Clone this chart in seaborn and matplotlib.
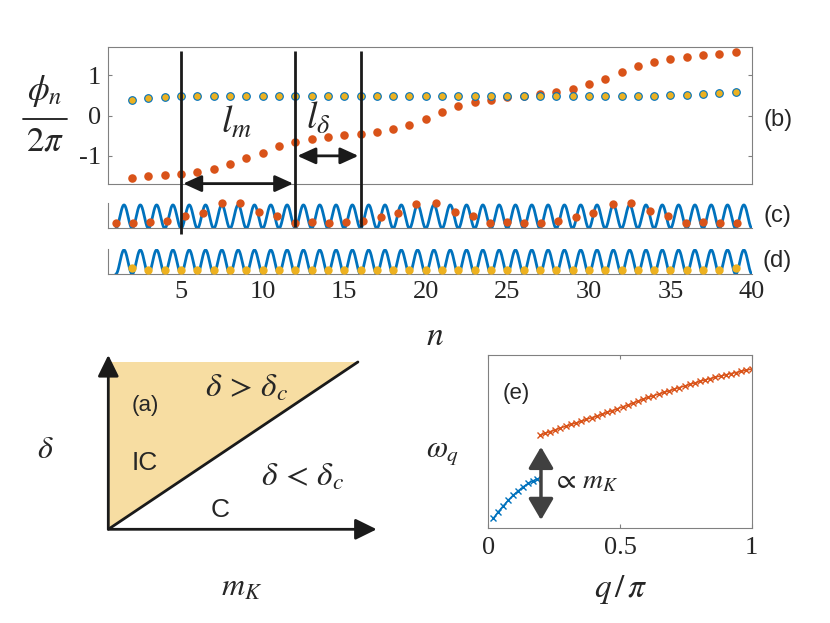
import numpy as np
import pandas as pd
import seaborn as sns
import matplotlib.pyplot as plt
from matplotlib.lines import Line2D

# ---------------- data ----------------
# panel (b): phase phi_n / 2pi per site
sites = list(range(2, 40))
phi_comm = [0.40, 0.44, 0.46, 0.48, 0.49, 0.49,
            0.50, 0.50, 0.50, 0.50, 0.50, 0.50, 0.50, 0.50, 0.50, 0.50,
            0.50, 0.50, 0.50, 0.50, 0.50, 0.50, 0.50, 0.50, 0.50, 0.50,
            0.50, 0.50, 0.50, 0.50, 0.50, 0.50, 0.50,
            0.51, 0.52, 0.535, 0.56, 0.60]
phi_inc = [-1.56, -1.51, -1.48, -1.44, -1.39, -1.32, -1.21, -1.06, -0.92, -0.76,
           -0.66, -0.59, -0.53, -0.49, -0.46, -0.40, -0.33, -0.23, -0.08, 0.08,
           0.23, 0.33, 0.40, 0.46, 0.50, 0.54, 0.60, 0.67, 0.78, 0.91,
           1.08, 1.23, 1.33, 1.40, 1.46, 1.50, 1.53, 1.58]
cuts = [5, 12, 16]          # l_m between cuts[0:2], l_delta between cuts[1:3]

# panel (c): incommensurate atoms on the substrate
pos_c = [1.02, 2.04, 3.08, 4.15, 5.23, 6.33, 7.48, 8.64, 9.79, 10.90,
         11.98, 13.00, 14.04, 15.09, 16.15, 17.23, 18.32, 19.42, 20.61, 21.79,
         22.88, 23.94, 25.01, 26.05, 27.09, 28.11, 29.20, 30.28, 31.45, 32.57,
         33.73, 34.86, 35.94, 36.97, 38.05, 39.07]
h_c = [0.24, 0.21, 0.26, 0.33, 0.53, 0.67, 1.07, 1.07, 0.71, 0.53,
       0.24, 0.26, 0.21, 0.26, 0.33, 0.50, 0.67, 1.04, 1.10, 0.71,
       0.53, 0.24, 0.26, 0.21, 0.21, 0.33, 0.50, 0.67, 1.04, 1.10,
       0.74, 0.53, 0.24, 0.26, 0.21, 0.21]
# panel (d): commensurate atoms
pos_d = sites
h_d = [0.26] + [0.16] * 36 + [0.25]

# substrate potential (period 1, from n = 1 to 40)
period = 1.0
x_wave = np.linspace(1, 40, 3000)
v_wave = 0.5 * (1 - np.cos(2 * np.pi * x_wave / period))

# panel (e): dispersion
q_ac = [0.019, 0.038, 0.057, 0.076, 0.095, 0.114, 0.133, 0.152, 0.171, 0.186]
w_ac = [0.058, 0.096, 0.130, 0.163, 0.192, 0.217, 0.240, 0.260, 0.275, 0.286]
q_op = [0.196, 0.216, 0.235, 0.255, 0.274, 0.294, 0.314, 0.333, 0.353, 0.372,
        0.392, 0.412, 0.431, 0.451, 0.470, 0.490, 0.510, 0.529, 0.549, 0.568,
        0.588, 0.608, 0.627, 0.647, 0.666, 0.686, 0.706, 0.725, 0.745, 0.764,
        0.784, 0.804, 0.823, 0.843, 0.862, 0.882, 0.902, 0.921, 0.941, 0.960,
        0.980, 1.000]
w_op = [0.538, 0.548, 0.558, 0.569, 0.579, 0.589, 0.599, 0.608, 0.618, 0.628,
        0.638, 0.648, 0.658, 0.669, 0.679, 0.690, 0.701, 0.711, 0.722, 0.734,
        0.745, 0.756, 0.765, 0.775, 0.784, 0.793, 0.803, 0.812, 0.821, 0.830,
        0.839, 0.848, 0.857, 0.864, 0.872, 0.879, 0.886, 0.893, 0.899, 0.906,
        0.912, 0.919]
gap_q = 0.2
gap_w = [0.048, 0.47]

# panel (a): phase boundary end point (schematic)
boundary = ([0, 0.93], [0, 0.96])

BLUE = '#0072BD'
ORANGE = '#D95319'
YELLOW = '#EDB120'
GREY = '#808080'

sns.set_theme(style='white')
plt.rcParams['font.family'] = ['Liberation Serif', 'DejaVu Serif']
plt.rcParams['mathtext.fontset'] = 'stix'

W, H = 830, 623
fig = plt.figure(figsize=(W / 100, H / 100), dpi=100)


def box(l, t, r, b):
    return [l / W, 1 - b / H, (r - l) / W, (b - t) / H]


def ftext(px, py, s, size, **kw):
    fig.text(px / W, 1 - py / H, s, fontsize=size, ha=kw.pop('ha', 'center'),
             va=kw.pop('va', 'center'), **kw)


SANS = ['Liberation Sans', 'DejaVu Sans']

ax_b = fig.add_axes(box(107.7, 47.3, 752, 184))
ax_c = fig.add_axes(box(107.7, 203.3, 752, 228.3))
ax_d = fig.add_axes(box(107.7, 249.3, 752, 274))
ax_a = fig.add_axes(box(108.3, 355, 376.7, 529.3))
ax_e = fig.add_axes(box(488.3, 355, 751.7, 528.3))
for ax in (ax_b, ax_c, ax_d, ax_a, ax_e):
    ax.patch.set_visible(False)
ax_b.set_zorder(5)

# ---- (b) ----
df_b = pd.DataFrame({'n': sites, 'comm': phi_comm, 'inc': phi_inc})
sns.scatterplot(data=df_b, x='n', y='inc', color=ORANGE, s=38, linewidth=0, ax=ax_b, zorder=3)
sns.scatterplot(data=df_b, x='n', y='comm', color=YELLOW, edgecolor=BLUE, linewidth=0.8,
                s=30, ax=ax_b, zorder=4)
ax_b.set_xlim(0.5, 40)
ax_b.set_ylim(-1.7, 1.7)
ax_b.set_xticks([])
ax_b.set_yticks([-1, 0, 1])
ax_b.set_yticklabels(['-1', '0', '1'])
ax_b.tick_params(axis='y', direction='in', length=3, width=0.8, color=GREY,
                 left=True, right=True, labelsize=19, pad=5)
ax_b.set_xlabel('')
ax_b.set_ylabel('')
for sp in ax_b.spines.values():
    sp.set_color(GREY)
    sp.set_linewidth(0.8)

ax_b.vlines(cuts, ymin=[-2.95, -2.78, -2.78], ymax=1.62, colors='k', lw=2, clip_on=False, zorder=6)
arr = dict(arrowstyle='<|-|>,head_length=0.55,head_width=0.25', color='k', lw=2,
           mutation_scale=20, shrinkA=1.5, shrinkB=1.5)
ax_b.annotate('', xy=(cuts[1], -1.69), xytext=(cuts[0], -1.69), arrowprops=arr,
              annotation_clip=False, zorder=6)
ax_b.annotate('', xy=(cuts[2], -1.0), xytext=(cuts[1], -1.0), arrowprops=arr,
              annotation_clip=False, zorder=6)
ftext(236.7, 122.5, r'$l_m$', 27)
ftext(318.5, 119, r'$l_\delta$', 27)

# ---- (c), (d) ----
for ax, pos, h, col, top in ((ax_c, pos_c, h_c, ORANGE, 1.07), (ax_d, pos_d, h_d, YELLOW, 1.03)):
    sns.lineplot(x=x_wave, y=v_wave, color=BLUE, lw=2, ax=ax, estimator=None, sort=False)
    sns.scatterplot(x=pos, y=h, color=col, s=36, linewidth=0, ax=ax, zorder=4, clip_on=False)
    ax.set_xlim(0.5, 40)
    ax.set_ylim(0, top)
    ax.set_yticks([])
    for k in ('top', 'right'):
        ax.spines[k].set_visible(False)
    for k in ('left', 'bottom'):
        ax.spines[k].set_color(GREY)
        ax.spines[k].set_linewidth(0.8)
ax_c.set_xticks([])
ax_d.set_xticks(range(5, 41, 5))
ax_d.tick_params(axis='x', length=0, labelsize=19, pad=5)

ftext(435, 336.5, r'$n$', 24)
# y label of (b): phi_n over 2 pi
ftext(45, 91, r'$\phi_n$', 25)
ftext(45, 142, r'$2\pi$', 25)
fig.add_artist(Line2D([23 / W, 67 / W], [1 - 119 / H, 1 - 119 / H], color='k', lw=1.3))
ftext(778, 120, '(b)', 17, family=SANS)
ftext(777.5, 215.8, '(c)', 17, family=SANS)
ftext(777.5, 261, '(d)', 17, family=SANS)

# ---- (a) ----
ax_a.set_axis_off()
ax_a.set_xlim(0, 1)
ax_a.set_ylim(0, 1)
ax_a.fill([0, 0, boundary[0][1]], [0, boundary[1][1], boundary[1][1]], color='#F7DDA2',
          lw=0, zorder=1)
sns.lineplot(x=boundary[0], y=boundary[1], color='k', lw=2, ax=ax_a, zorder=2)
arr_a = dict(arrowstyle='-|>,head_length=0.65,head_width=0.32', color='k', lw=2,
             mutation_scale=20, shrinkA=0, shrinkB=0)
ax_a.annotate('', xy=(0, 1), xytext=(0, 0), arrowprops=arr_a, annotation_clip=False)
ax_a.annotate('', xy=(1, 0), xytext=(0, 0), arrowprops=arr_a, annotation_clip=False)
ftext(145, 405, '(a)', 16, family=SANS)
ftext(145, 463, 'IC', 19, family=SANS)
ftext(220, 510, 'C', 19, family=SANS)
ftext(246.7, 388, r'$\delta\,>\,\delta_c$', 24)
ftext(303, 477, r'$\delta\,<\,\delta_c$', 24)
ftext(45, 451, r'$\delta$', 23)
ftext(241.7, 588, r'$m_K$', 23)

# ---- (e) ----
for q, w, col in ((q_ac, w_ac, BLUE), (q_op, w_op, ORANGE)):
    sns.lineplot(x=q, y=w, color=col, lw=1, marker='x', markersize=5, mew=1, mec=col,
                 ax=ax_e, estimator=None, sort=False)
ax_e.annotate('', xy=(gap_q, gap_w[1]), xytext=(gap_q, gap_w[0]),
              arrowprops=dict(arrowstyle='<|-|>,head_length=0.65,head_width=0.38',
                              color='#404040', lw=2.5, mutation_scale=20,
                              shrinkA=0, shrinkB=0))
ax_e.set_xlim(0, 1)
ax_e.set_ylim(0, 1)
ax_e.set_xticks([0, 0.5, 1])
ax_e.set_xticklabels(['0', '0.5', '1'])
ax_e.set_yticks([])
ax_e.tick_params(axis='x', direction='in', length=3, width=0.8, color=GREY,
                 top=True, bottom=True, labelsize=19, pad=6)
ax_e.set_xlabel('')
ax_e.set_ylabel('')
for sp in ax_e.spines.values():
    sp.set_color(GREY)
    sp.set_linewidth(0.8)
ftext(516.7, 393, '(e)', 16, family=SANS)
ftext(551.7, 482, r'$\propto\, m_K$', 20, ha='left')
ftext(442.5, 452, r'$\omega_q$', 22)
ftext(621, 589, r'$q\,/\,\pi$', 24)

fig.savefig('out.png', dpi=100)
